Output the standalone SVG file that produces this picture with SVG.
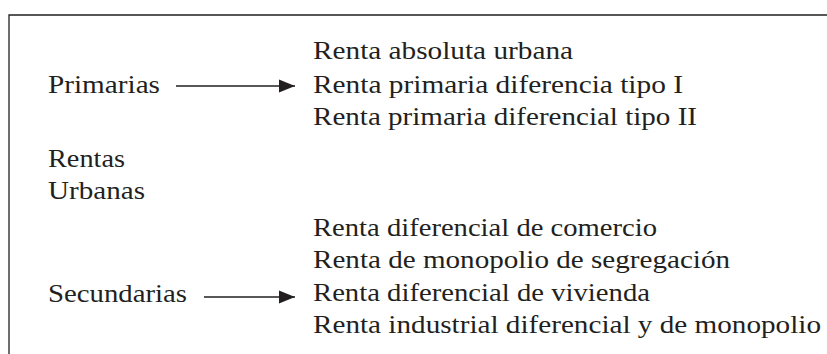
<svg xmlns="http://www.w3.org/2000/svg" width="827" height="354" viewBox="0 0 827 354">
<style>
text{font-family:"Liberation Serif","Times New Roman",serif;font-size:26px;fill:#231f20}
.frame{fill:none;stroke:#231f20;stroke-width:1.3}
.conn{stroke:#231f20;stroke-width:1.3;fill:none}
</style>
<defs>
<marker id="ah" markerUnits="userSpaceOnUse" markerWidth="18" markerHeight="14" refX="16" refY="7" orient="auto">
<path d="M0,0.5 L16,7 L0,13.5 Z" fill="#231f20"/>
</marker>
</defs>
<rect width="827" height="354" fill="#fff"/>
<path class="frame" d="M9,354 V15 H827"/>
<g id="connectors">
<line class="conn" x1="176" y1="86" x2="295" y2="86" marker-end="url(#ah)"/>
<line class="conn" x1="204" y1="297" x2="295" y2="297" marker-end="url(#ah)"/>
</g>
<g id="primarias"><text x="48" y="93" textLength="112" lengthAdjust="spacingAndGlyphs">Primarias</text></g>
<g id="rentas-urbanas">
<text x="48" y="167" textLength="77" lengthAdjust="spacingAndGlyphs">Rentas</text>
<text x="48" y="199" textLength="97" lengthAdjust="spacingAndGlyphs">Urbanas</text>
</g>
<g id="secundarias"><text x="48" y="302" textLength="139" lengthAdjust="spacingAndGlyphs">Secundarias</text></g>
<g id="primarias-list">
<text x="313" y="59" textLength="260" lengthAdjust="spacingAndGlyphs">Renta absoluta urbana</text>
<text x="313" y="93" textLength="370" lengthAdjust="spacingAndGlyphs">Renta primaria diferencia tipo I</text>
<text x="313" y="125" textLength="384" lengthAdjust="spacingAndGlyphs">Renta primaria diferencial tipo II</text>
</g>
<g id="secundarias-list">
<text x="313" y="236" textLength="344" lengthAdjust="spacingAndGlyphs">Renta diferencial de comercio</text>
<text x="313" y="268" textLength="417" lengthAdjust="spacingAndGlyphs">Renta de monopolio de segregación</text>
<text x="313" y="301" textLength="337" lengthAdjust="spacingAndGlyphs">Renta diferencial de vivienda</text>
<text x="313" y="333" textLength="508" lengthAdjust="spacingAndGlyphs">Renta industrial diferencial y de monopolio</text>
</g>
</svg>
